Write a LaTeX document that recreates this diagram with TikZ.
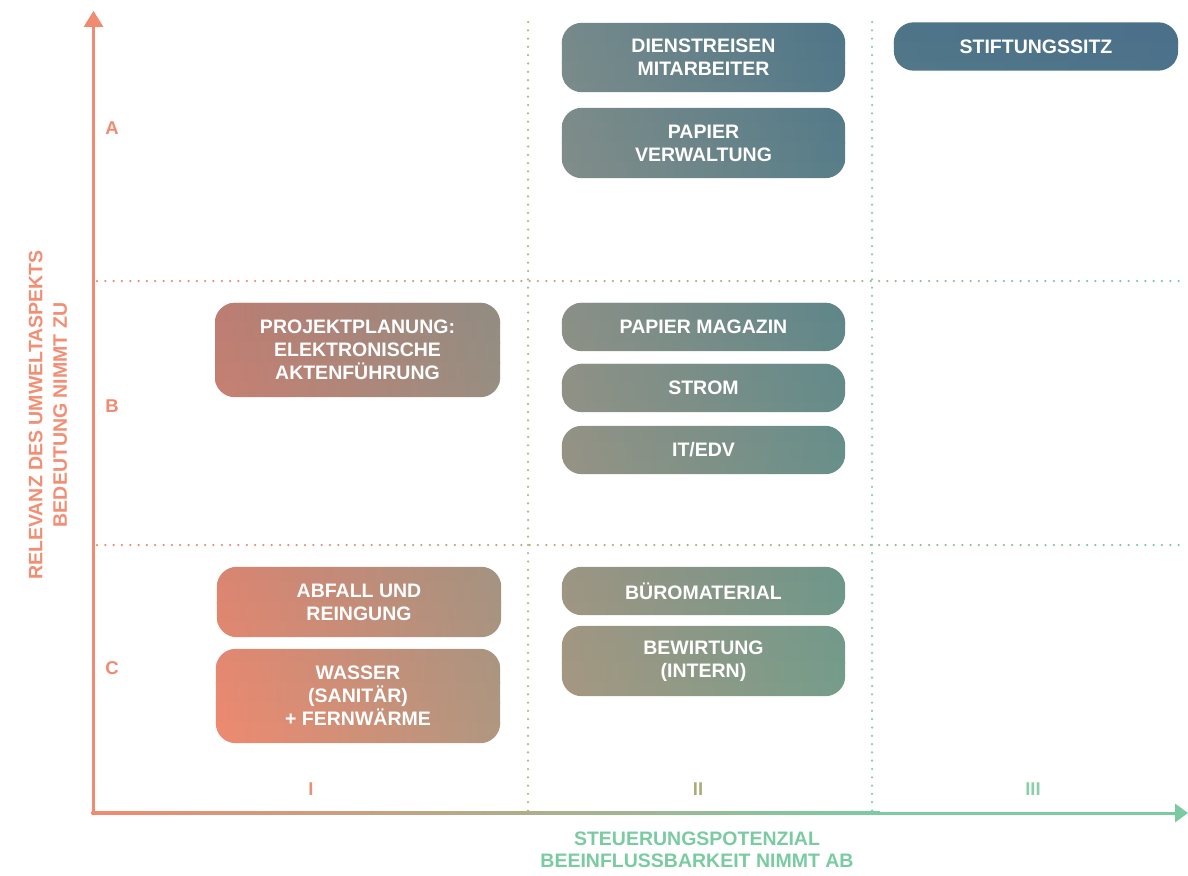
\documentclass[tikz,border=0pt]{standalone}
\usepackage{fontspec}
\setmainfont{Liberation Sans}
\pgfdeclarelayer{boxbg}
\pgfsetlayers{boxbg,main}
\definecolor{salm}{HTML}{F08A70}
\definecolor{grn}{HTML}{7ACBA1}
% bottom row of the box gradient (y = 743)
\definecolor{bA}{HTML}{EE8A70}
\definecolor{bB}{HTML}{B09780}
\definecolor{bC}{HTML}{A99880}
\definecolor{bD}{HTML}{78A08B}
\definecolor{bE}{HTML}{66A48F}
% top row of the box gradient (y = 23)
\definecolor{tA}{HTML}{9C7474}
\definecolor{tB}{HTML}{7D8583}
\definecolor{tC}{HTML}{768A8B}
\definecolor{tD}{HTML}{4F7588}
\definecolor{tE}{HTML}{4B6F8A}
\definecolor{vIt}{HTML}{B4B482}
\definecolor{vIb}{HTML}{C6AF88}
\definecolor{vII}{HTML}{8FCAA5}
\definecolor{numI}{HTML}{E6907A}
\definecolor{numII}{HTML}{A9AD7E}
\definecolor{numIII}{HTML}{8BCFA9}
\definecolor{ylab}{HTML}{F28E74}
\newcommand\myboxfont{\fontsize{19.5}{23}\selectfont\bfseries}
\newcommand\mylabfont{\fontsize{18.5}{22}\selectfont\bfseries}
\tikzset{
  taskbox/.style={inner sep=0pt, text=white, font=\myboxfont, align=center, minimum width=283pt},
  axlab/.style={inner sep=0pt, font=\mylabfont},
}
\begin{document}
\begin{tikzpicture}[x=1pt,y=-1pt]
\useasboundingbox (0,0) rectangle (1188,875);

% boxes (text nodes)
\node[taskbox, minimum height=69pt] (dienst) at (703.5,57.5) {DIENSTREISEN\\MITARBEITER};
\node[taskbox, minimum height=70pt] (papv) at (703.5,143) {PAPIER\\VERWALTUNG};
\node[taskbox, minimum width=284pt, minimum height=48pt] (stift) at (1036,46.5) {STIFTUNGSSITZ};
\node[taskbox, minimum width=285pt, minimum height=94pt] (proj) at (357.5,350) {PROJEKTPLANUNG:\\ELEKTRONISCHE\\AKTENFÜHRUNG};
\node[taskbox, minimum height=48pt] (papm) at (703.5,327) {PAPIER MAGAZIN};
\node[taskbox, minimum height=48pt] (strom) at (703.5,388) {STROM};
\node[taskbox, minimum height=48pt] (it) at (703.5,450) {IT/EDV};
\node[taskbox, minimum width=284pt, minimum height=70pt] (abfall) at (359,602) {ABFALL UND\\REINGUNG};
\node[taskbox, minimum width=284pt, minimum height=94pt] (wasser) at (358,696) {WASSER\\(SANITÄR)\\+ FERNWÄRME};
\node[taskbox, minimum height=48pt] (buero) at (703.5,591) {BÜROMATERIAL};
\node[taskbox, minimum height=70pt] (bew) at (703.5,661) {BEWIRTUNG\\(INTERN)};

% 2D gradient inside the boxes, built from thin horizontal strips
\begin{pgfonlayer}{boxbg}
\begin{scope}
\clip[rounded corners=20pt]
  (dienst.south west) rectangle (dienst.north east)
  (papv.south west) rectangle (papv.north east)
  (stift.south west) rectangle (stift.north east)
  (proj.south west) rectangle (proj.north east)
  (papm.south west) rectangle (papm.north east)
  (strom.south west) rectangle (strom.north east)
  (it.south west) rectangle (it.north east)
  (abfall.south west) rectangle (abfall.north east)
  (wasser.south west) rectangle (wasser.north east)
  (buero.south west) rectangle (buero.north east)
  (bew.south west) rectangle (bew.north east);
\foreach \i in {0,...,35} {
  \pgfmathtruncatemacro\ff{round(100*(35.5-\i)/36)}
  \colorlet{sA\i}{tA!\ff!bA}
  \colorlet{sB\i}{tB!\ff!bB}
  \colorlet{sC\i}{tC!\ff!bC}
  \colorlet{sD\i}{tD!\ff!bD}
  \colorlet{sE\i}{tE!\ff!bE}
  \pgfdeclarehorizontalshading{strip\i}{100bp}{color(0bp)=(sA\i); color(25bp)=(sA\i); color(39.77bp)=(sB\i); color(42.98bp)=(sC\i); color(57.64bp)=(sD\i); color(75bp)=(sE\i); color(100bp)=(sE\i)}
  \pgfmathsetmacro\ya{23+20*\i-0.6}
  \pgfmathsetmacro\yb{23+20*\i+20.6}
  \shade[shading=strip\i] (215,\ya) rectangle (1180,\yb);
}
\end{scope}
\end{pgfonlayer}

% dotted grid lines
\foreach \yy in {281,545} {
  \foreach \i in {0,...,130} {
    \pgfmathsetmacro\xx{97+8.32*\i}
    \pgfmathtruncatemacro\pp{100*\i/130}
    \fill[grn!\pp!salm] (\xx,\yy) circle (1.25pt);
  }
}
\foreach \i in {0,...,95} {
  \pgfmathsetmacro\yy{22+8.3*\i}
  \pgfmathtruncatemacro\pp{100*\i/95}
  \fill[vIb!\pp!vIt] (528,\yy) circle (1.25pt);
  \fill[vII] (872,\yy) circle (1.25pt);
}

% axes
\coordinate (O) at (93,813);
\coordinate (ybase) at (93,27);
\coordinate (ytip) at (93.5,11);
\coordinate (xtip) at (1188,813);
\draw[salm, line width=3pt] (O) -- (ybase);
\fill[salm] (83.5,27) -- (ytip) -- (103.5,27) -- cycle;
\shade[left color=salm, right color=grn] (91.5,811.5) rectangle (880,814.5);
\fill[grn] (879.5,811.5) rectangle (1177,814.5);
\fill[grn] (1175,803.5) -- (xtip) -- (1175,822.5) -- cycle;

% axis labels
\node[axlab, salm] (lA) at (112,128) {A};
\node[axlab, salm] (lB) at (112,406) {B};
\node[axlab, salm] (lC) at (112,668) {C};
\node[axlab, numI] (nI) at (311,789) {I};
\node[axlab, numII] (nII) at (698,789) {II};
\node[axlab, numIII] (nIII) at (1033,789) {III};
\node[inner sep=0pt, align=center, text=grn, font=\fontsize{19.5}{22.5}\selectfont\bfseries] (xl) at (697,850)
  {STEUERUNGSPOTENZIAL\\BEEINFLUSSBARKEIT NIMMT AB};
\node[inner sep=0pt, align=center, text=ylab, rotate=90, font=\fontsize{19.5}{24.5}\selectfont\bfseries] (yl) at (48,415)
  {RELEVANZ DES UMWELTASPEKTS\\BEDEUTUNG NIMMT ZU};
\end{tikzpicture}
\end{document}
